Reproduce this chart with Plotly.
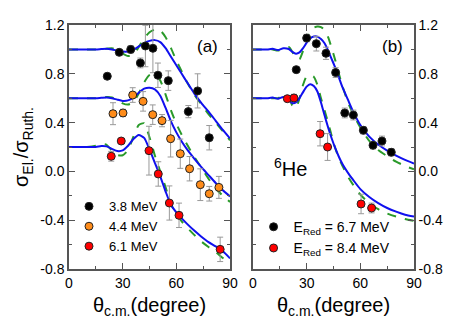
import plotly.graph_objects as go

# ---------------- data: panel (a) ----------------
a38_x = [21.4, 28.1, 34.5, 39.9, 42.7, 46.9, 49.7, 55.5, 66.7, 71.9, 78.4]
a38_y = [0.78, 0.976, 1.0, 0.889, 1.028, 1.009, 0.788, 0.744, 0.49, 0.66, 0.276]
a38_e = [0.02, 0.02, 0.03, 0.04, 0.17, 0.2, 0.1, 0.08, 0.05, 0.14, 0.1]

a44_x = [24.6, 30.2, 35.6, 41.4, 46.8, 52.0, 56.8, 62.2, 67.4, 73.4, 78.4, 83.8]
a44_y = [0.473, 0.479, 0.626, 0.574, 0.465, 0.416, 0.268, 0.145, 0.022, -0.109, -0.183, -0.131]
a44_e = [0.09, 0.03, 0.06, 0.08, 0.08, 0.05, 0.15, 0.12, 0.1, 0.13, 0.06, 0.09]

a61_x = [23.6, 29.2, 44.7, 49.9, 56.1, 61.5, 84.5]
a61_y = [0.124, 0.249, 0.17, -0.021, -0.259, -0.36, -0.639]
a61_e = [0.04, 0.02, 0.2, 0.1, 0.14, 0.1, 0.1]

ang_a = [0, 5, 10, 15, 18, 21, 24, 27, 30, 33, 36, 39, 42, 45, 48, 51, 54, 57, 60, 63, 66, 70, 74, 78, 82, 86, 90]
a38_blue = [1.0, 1.0, 1.0, 1.0, 1.003, 1.006, 1.0, 0.99, 0.982, 0.982, 0.995, 1.025, 1.052, 1.07, 1.076, 1.06, 1.01, 0.94, 0.87, 0.8, 0.73, 0.64, 0.56, 0.49, 0.415, 0.34, 0.27]
a38_green = [1.0, 1.0, 1.0, 1.0, 1.0, 1.005, 1.01, 0.995, 0.965, 0.945, 0.958, 1.02, 1.09, 1.14, 1.163, 1.155, 1.1, 1.01, 0.91, 0.82, 0.73, 0.63, 0.55, 0.47, 0.4, 0.33, 0.255]
a44_blue = [0.6, 0.6, 0.6, 0.6, 0.603, 0.606, 0.6, 0.588, 0.578, 0.582, 0.605, 0.645, 0.678, 0.686, 0.672, 0.62, 0.52, 0.41, 0.32, 0.245, 0.18, 0.105, 0.035, -0.03, -0.095, -0.155, -0.205]
a44_green = [0.6, 0.6, 0.6, 0.6, 0.603, 0.61, 0.607, 0.585, 0.558, 0.548, 0.568, 0.64, 0.73, 0.79, 0.8, 0.745, 0.63, 0.5, 0.39, 0.3, 0.22, 0.12, 0.03, -0.06, -0.14, -0.2, -0.25]
a61_blue = [0.2, 0.2, 0.2, 0.2, 0.208, 0.205, 0.185, 0.167, 0.172, 0.21, 0.265, 0.298, 0.275, 0.18, 0.07, -0.04, -0.165, -0.275, -0.335, -0.385, -0.43, -0.485, -0.535, -0.58, -0.615, -0.655, -0.713]
a61_green = [0.2, 0.2, 0.2, 0.21, 0.225, 0.218, 0.17, 0.135, 0.132, 0.175, 0.285, 0.38, 0.395, 0.28, 0.13, 0.0, -0.13, -0.27, -0.345, -0.41, -0.46, -0.52, -0.575, -0.62, -0.66, -0.71, -0.755]

# ---------------- data: panel (b) ----------------
b67_x = [24.2, 30.0, 35.4, 40.8, 46.2, 51.3, 56.1, 61.7, 67.1, 72.1, 77.3]
b67_y = [0.834, 1.093, 1.047, 0.968, 0.81, 0.479, 0.462, 0.337, 0.214, 0.249, 0.157]
b67_e = [0.01, 0.03, 0.06, 0.05, 0.04, 0.04, 0.04, 0.03, 0.03, 0.04, 0.03]

b84_x = [19.2, 22.9, 37.5, 41.7, 60.4, 66.3]
b84_y = [0.596, 0.602, 0.309, 0.2, -0.267, -0.3]
b84_e = [0.01, 0.03, 0.1, 0.11, 0.08, 0.04]

ang_b = [0, 4, 8, 11, 14, 17, 20, 22, 24, 26, 28, 30, 32, 34, 36, 38, 40, 42, 44, 46, 48, 50, 53, 56, 60, 65, 70, 75, 80, 85, 90]
b67_blue = [1.0, 1.0, 1.0, 1.005, 0.995, 1.01, 1.003, 0.98, 0.965, 0.975, 1.01, 1.055, 1.09, 1.105, 1.105, 1.085, 1.05, 0.99, 0.92, 0.85, 0.77, 0.69, 0.59, 0.49, 0.38, 0.285, 0.22, 0.17, 0.13, 0.095, 0.065]
b67_green = [1.0, 1.0, 1.0, 1.0, 0.99, 1.01, 1.02, 0.98, 0.925, 0.92, 0.99, 1.09, 1.15, 1.178, 1.188, 1.183, 1.16, 1.1, 1.01, 0.91, 0.8, 0.7, 0.57, 0.47, 0.36, 0.25, 0.175, 0.125, 0.08, 0.045, 0.017]
b84_blue = [0.6, 0.6, 0.6, 0.605, 0.595, 0.61, 0.585, 0.56, 0.565, 0.6, 0.65, 0.695, 0.715, 0.7, 0.655, 0.565, 0.46, 0.36, 0.27, 0.19, 0.12, 0.06, -0.01, -0.07, -0.145, -0.21, -0.26, -0.3, -0.33, -0.355, -0.37]
b84_green = [0.6, 0.6, 0.6, 0.6, 0.6, 0.62, 0.6, 0.54, 0.52, 0.6, 0.71, 0.78, 0.79, 0.775, 0.71, 0.6, 0.5, 0.4, 0.29, 0.19, 0.11, 0.045, -0.04, -0.11, -0.19, -0.26, -0.31, -0.345, -0.37, -0.39, -0.405]

x_ticks = [0, 30, 60, 90]
y_ticks = [-0.8, -0.4, 0.0, 0.4, 0.8, 1.2]
y_text = ["-0.8", "-0.4", "0.0", "0.4", "0.8", "1.2"]

BLUE = "#1010ee"
GREEN = "#2a9a2a"
FONT = "Liberation Sans, Arial, sans-serif"

fig = go.Figure()

def curve(x, y, color, dash, xa, ya):
    fig.add_trace(go.Scatter(x=x, y=y, mode="lines", xaxis=xa, yaxis=ya,
                             line=dict(color=color, width=2, dash=dash, shape="spline", smoothing=0.6),
                             showlegend=False, hoverinfo="skip"))

def points(x, y, e, color, name, xa, ya, leg):
    fig.add_trace(go.Scatter(x=x, y=y, mode="markers", xaxis=xa, yaxis=ya, name=name,
                             legend=leg,
                             error_y=dict(type="data", array=e, color="#999999", thickness=1, width=3),
                             marker=dict(color=color, size=8, line=dict(color="#222222", width=1))))

for yb, yg in [(a38_blue, a38_green), (a44_blue, a44_green), (a61_blue, a61_green)]:
    curve(ang_a, yg, GREEN, "dash", "x", "y")
    curve(ang_a, yb, BLUE, "solid", "x", "y")
for yb, yg in [(b67_blue, b67_green), (b84_blue, b84_green)]:
    curve(ang_b, yg, GREEN, "dash", "x2", "y2")
    curve(ang_b, yb, BLUE, "solid", "x2", "y2")

points(a38_x, a38_y, a38_e, "#000000", "3.8 MeV", "x", "y", "legend")
points(a44_x, a44_y, a44_e, "#ff8c1a", "4.4 MeV", "x", "y", "legend")
points(a61_x, a61_y, a61_e, "#ff0000", "6.1 MeV", "x", "y", "legend")
points(b67_x, b67_y, b67_e, "#000000", "E<sub>Red</sub> = 6.7 MeV", "x2", "y2", "legend2")
points(b84_x, b84_y, b84_e, "#ff0000", "E<sub>Red</sub> = 8.4 MeV", "x2", "y2", "legend2")

axcol = "#555555"
xtitle = dict(text="θ<sub>c.m.</sub>(degree)", font=dict(size=20), standoff=8)
xcommon = dict(range=[0, 90], tickvals=x_ticks, ticks="inside", ticklen=6, tickwidth=1.2,
               tickcolor=axcol, showline=True, linecolor=axcol, linewidth=1.5, mirror="allticks",
               showgrid=False, zeroline=False, tickfont=dict(size=14, color="black"),
               minor=dict(dtick=15, ticks="inside", ticklen=3, tickcolor=axcol), title=xtitle)
ycommon = dict(range=[-0.8, 1.2], tickvals=y_ticks, ticktext=y_text, ticks="inside", ticklen=6,
               tickwidth=1.2, tickcolor=axcol, showline=True, linecolor=axcol, linewidth=1.5,
               mirror="allticks", showgrid=False, zeroline=False,
               tickfont=dict(size=14, color="black"),
               minor=dict(dtick=0.2, tick0=0, ticks="inside", ticklen=3, tickcolor=axcol))

fig.update_layout(
    width=460, height=325,
    margin=dict(l=69, r=46, t=25, b=56, autoexpand=False),
    paper_bgcolor="white", plot_bgcolor="white",
    font=dict(family=FONT, color="black"),
    xaxis=dict(domain=[0, 0.4667], anchor="y", **xcommon),
    yaxis=dict(anchor="x", side="left",
               title=dict(text="σ<sub>El.</sub>/σ<sub>Ruth.</sub>", font=dict(size=20), standoff=6),
               **ycommon),
    xaxis2=dict(domain=[0.5333, 1.0], anchor="y2", **xcommon),
    yaxis2=dict(anchor="x2", side="right", **ycommon),
    legend=dict(x=0.0, y=0.318, xanchor="left", yanchor="top", bgcolor="rgba(0,0,0,0)",
                font=dict(size=13), itemwidth=30, tracegroupgap=0),
    legend2=dict(x=0.535, y=0.237, xanchor="left", yanchor="top", bgcolor="rgba(0,0,0,0)",
                 font=dict(size=14), itemwidth=30, tracegroupgap=0),
    annotations=[
        dict(text="(a)", x=0.4, y=0.91, xref="paper", yref="paper", showarrow=False,
             xanchor="center", yanchor="middle", font=dict(size=17)),
        dict(text="(b)", x=0.9377, y=0.91, xref="paper", yref="paper", showarrow=False,
             xanchor="center", yanchor="middle", font=dict(size=17)),
        dict(text="<sup>6</sup>He", x=0.643, y=0.418, xref="paper", yref="paper",
             xanchor="center", yanchor="middle", showarrow=False, font=dict(size=20)),
    ],
)

fig.write_html("out.html", config={"displayModeBar": False},
               post_script="document.body.style.margin='0';document.body.style.padding='0';")
